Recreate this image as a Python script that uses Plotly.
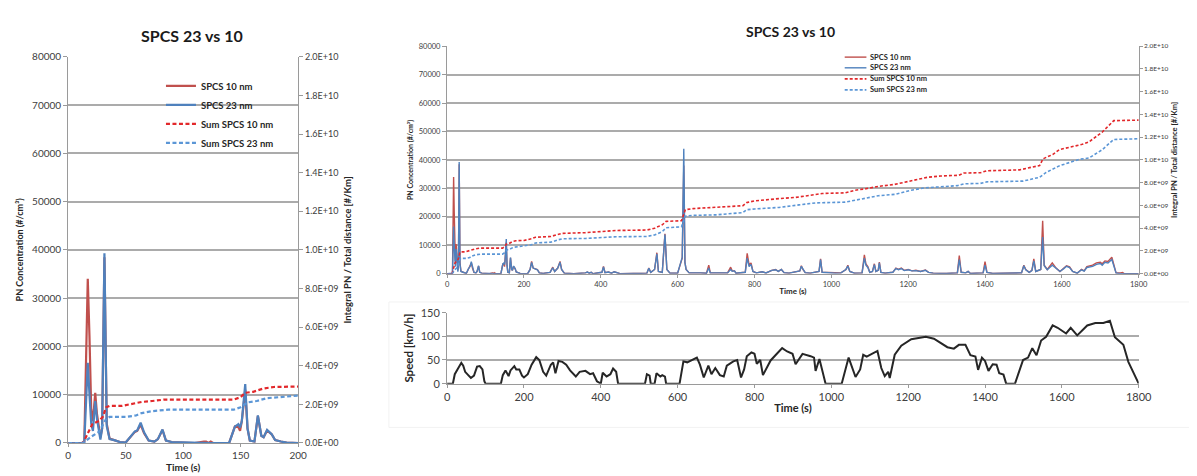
import plotly.graph_objects as go

# ---------------- data ----------------
# PN concentration (#/cm3) time series, shared time base (s)
pn_time = [0, 12, 14, 15.5, 17, 18.5, 20, 21.5, 23.5, 25, 26.5, 28, 29.5, 31.5, 33.5, 36, 40, 45, 50,
           55, 58, 60, 63, 66, 70, 75, 78, 82, 85, 90, 100, 105, 110, 118, 120, 122, 124, 126, 140,
           145, 148, 149.5, 151, 154, 156, 158, 162, 165, 168, 170, 173, 177, 180, 185, 190, 200,
           210, 216, 220, 224, 235, 240, 250, 268, 275, 280, 288, 294, 298, 305, 330, 360, 365, 370,
           375, 380, 403, 407, 411, 420, 428, 435, 442, 450, 520, 525, 530, 540, 546, 550, 560, 567,
           572, 580, 600, 607, 612, 616, 619, 622, 630, 660, 675, 681, 685, 730, 738, 742, 748, 752,
           776, 781, 786, 791, 796, 805, 820, 830, 845, 855, 862, 870, 877, 890, 918, 922, 926, 932,
           945, 968, 972, 976, 1010, 1025, 1038, 1043, 1048, 1060, 1080, 1086, 1090, 1095, 1100, 1107,
           1112, 1116, 1122, 1125, 1129, 1140, 1160, 1168, 1175, 1182, 1190, 1200, 1210, 1220, 1232,
           1245, 1253, 1265, 1300, 1328, 1333, 1338, 1350, 1356, 1362, 1395, 1400, 1405, 1420, 1495,
           1501, 1506, 1515, 1522, 1527, 1532, 1545, 1550, 1554, 1562, 1575, 1585, 1595, 1605, 1612,
           1620, 1628, 1640, 1651, 1658, 1665, 1680, 1690, 1700, 1705, 1712, 1720, 1730, 1735, 1741,
           1752, 1758, 1763, 1800]
pn_10nm = [0, 0, 300, 15000, 34000, 22000, 7000, 4500, 10400, 6000, 3000, 1200, 3000, 38500, 4000, 900, 600, 200, 100,
           1500, 2300, 2500, 3800, 2000, 500, 300, 800, 2700, 500, 200, 100, 200, 0, 300, 300, 0, 300, 0, 0,
           3400, 3300, 2500, 4500, 11000, 3000, 500, 300, 5600, 1500, 1200, 2600, 1800, 600, 300, 100, 0,
           100, 1500, 4300, 2000, 1500, 300, 100, 500, 2300, 800, 2000, 4300, 1500, 200, 0, 300, 600, 200,
           500, 0, 500, 2600, 400, 600, 200, 700, 300, 0, 200, 2000, 500, 1500, 7400, 800, 500, 14000,
           1500, 200, 200, 3000, 5500, 38000, 4000, 1500, 300, 300, 200, 3000, 300, 300, 2300, 1000, 1000, 200,
           500, 7200, 3000, 3800, 800, 300, 700, 300, 1200, 1500, 800, 1500, 400, 200, 1000, 2800, 1500, 400,
           200, 800, 5200, 500, 200, 300, 1500, 3000, 800, 200, 300, 6600, 3500, 2500, 500, 800,
           3500, 800, 1200, 4100, 500, 200, 500, 2000, 1500, 2000, 1200, 1500, 1000, 1200, 800,
           1300, 500, 200, 100, 300, 6400, 500, 300, 800, 100, 300, 4300, 500, 100, 300,
           3000, 1500, 500, 1200, 5200, 800, 1500, 18600, 3000, 1500, 3800, 2000, 800, 2000, 2800,
           2400, 800, 200, 1500, 1000, 2500, 3000, 3800, 4000, 3500, 4500, 4300, 5800, 3000, 300,
           300, 400, 0, 0]
pn_23nm = [0, 0, 200, 8000, 16600, 10000, 4000, 2500, 8700, 5000, 2500, 700, 3000, 39300, 3500, 800, 600, 200, 100,
           1600, 2400, 2600, 4200, 2200, 500, 300, 800, 2800, 500, 200, 100, 200, 0, 0, 0, 0, 0, 0, 0,
           3400, 3900, 3200, 4500, 12200, 3000, 500, 300, 5700, 1500, 1200, 2700, 1800, 600, 300, 100, 0,
           100, 1500, 4000, 2000, 1400, 300, 100, 500, 2100, 800, 2000, 4000, 1500, 200, 0, 300, 600, 200,
           500, 0, 500, 2400, 400, 600, 200, 700, 300, 0, 200, 1900, 500, 1500, 7000, 800, 500, 13800,
           1500, 200, 200, 3000, 5800, 43900, 4000, 1500, 300, 300, 200, 2000, 300, 300, 1500, 900, 1000, 200,
           500, 5500, 2500, 3300, 800, 300, 700, 300, 1200, 1400, 800, 1500, 400, 200, 1000, 2600, 1500, 400,
           200, 800, 5000, 500, 200, 300, 1500, 2700, 800, 200, 300, 5500, 3000, 2200, 500, 800,
           3200, 800, 1200, 3800, 500, 200, 500, 1800, 1400, 1800, 1100, 1400, 1000, 1100, 800,
           1200, 500, 200, 100, 300, 5000, 500, 300, 800, 100, 300, 3000, 500, 100, 300,
           2800, 1400, 500, 1100, 4500, 800, 1500, 12900, 2800, 1400, 3000, 1800, 800, 1800, 2600,
           2200, 800, 200, 1400, 900, 2200, 2600, 3300, 3600, 3000, 4000, 3800, 5000, 2500, 300,
           0, 0, 0, 0]

# Integral PN / total distance, in units of 1E+09 #/km
sum10_time = [0, 13, 17, 21, 27, 30, 33, 36, 47, 56, 64, 73, 84, 144, 150, 154, 161, 170, 179, 200,
              220, 230, 270, 290, 300, 360, 400, 440, 520, 540, 560, 570, 610, 620, 640, 700, 770, 780,
              800, 864, 907, 942, 976, 1036, 1062, 1087, 1122, 1165, 1208, 1250, 1285, 1332, 1345, 1388,
              1405, 1490, 1516, 1542, 1551, 1576, 1593, 1619, 1653, 1671, 1705, 1735, 1800]
sum10_e9 = [0, 0, 0.50, 0.975, 1.15, 1.35, 1.85, 1.925, 1.925, 2.025, 2.125, 2.175, 2.25, 2.25, 2.375, 2.6, 2.65, 2.825, 2.9, 2.925,
            3.075, 3.21, 3.275, 3.45, 3.55, 3.61, 3.70, 3.80, 3.84, 4.00, 4.30, 4.60, 4.66, 5.625, 5.725, 5.825, 5.975, 6.25,
            6.40, 6.6, 6.71, 6.875, 7.05, 7.11, 7.34, 7.45, 7.675, 7.85, 8.19, 8.475, 8.59, 8.65, 8.85, 8.875,
            9.05, 9.125, 9.325, 9.5, 10.1, 10.475, 10.9, 11.1, 11.375, 11.6, 12.45, 13.45, 13.5]
sum23_time = [0, 13, 20, 27, 33, 36, 50, 59, 64, 73, 87, 144, 150, 156, 164, 173, 184, 200,
              220, 230, 270, 290, 300, 360, 400, 440, 520, 540, 560, 570, 610, 620, 640, 700, 770, 780,
              800, 864, 916, 959, 1036, 1079, 1122, 1165, 1208, 1242, 1293, 1328, 1345, 1388, 1405, 1499,
              1542, 1559, 1593, 1619, 1645, 1671, 1705, 1735, 1800]
sum23_e9 = [0, 0, 0.325, 0.5875, 1.25, 1.35, 1.35, 1.425, 1.55, 1.65, 1.725, 1.725, 1.85, 2.1, 2.175, 2.325, 2.375, 2.45,
            2.55, 2.70, 2.775, 2.99, 3.075, 3.10, 3.19, 3.25, 3.275, 3.41, 3.70, 4.04, 4.125, 5.06, 5.125, 5.175, 5.375, 5.625,
            5.69, 5.825, 6.05, 6.225, 6.29, 6.575, 6.85, 6.975, 7.34, 7.54, 7.675, 7.74, 7.9, 7.94, 8.075, 8.14,
            8.475, 8.9, 9.475, 9.75, 10.05, 10.175, 10.9, 11.8, 11.86]

# Vehicle speed (km/h)
speed_time = [0, 15, 20, 25, 32, 37, 42, 47, 55, 62, 70, 78, 85, 92, 97, 100, 140, 145, 152, 160, 165, 175, 180,
              188, 195, 200, 210, 220, 232, 240, 250, 258, 270, 276, 282, 290, 300, 310, 320, 335, 345, 360,
              372, 380, 390, 400, 405, 415, 425, 432, 440, 445, 515, 520, 527, 530, 540, 545, 555, 560, 567,
              570, 605, 615, 625, 640, 650, 658, 668, 680, 688, 698, 710, 720, 728, 745, 755, 765, 773, 780,
              792, 800, 806, 815, 822, 842, 865, 872, 885, 899, 907, 925, 946, 955, 959, 969, 985, 1027,
              1045, 1063, 1075, 1083, 1092, 1105, 1120, 1130, 1139, 1148, 1152, 1165, 1182, 1208, 1246, 1267,
              1302, 1319, 1332, 1349, 1362, 1375, 1382, 1392, 1400, 1409, 1420, 1430, 1437, 1448, 1455, 1478,
              1499, 1512, 1523, 1534, 1546, 1559, 1576, 1589, 1611, 1623, 1640, 1666, 1687, 1708, 1725, 1738,
              1760, 1773, 1800]
speed_kmh = [0, 0, 20, 27, 38, 44, 38, 25, 18, 12, 17, 36, 37, 30, 5, 0, 0, 18, 28, 16, 28, 37, 30,
             30, 17, 13, 20, 40, 56, 50, 25, 17, 40, 45, 22, 48, 46, 40, 28, 15, 25, 27,
             20, 22, 5, 0, 23, 15, 20, 32, 25, 0, 0, 20, 17, 0, 0, 22, 15, 18, 15,
             0, 0, 47, 45, 52, 55, 40, 13, 38, 20, 33, 18, 15, 38, 47, 50, 13, 30, 58,
             66, 63, 42, 50, 18, 49, 70, 75, 68, 63, 41, 63, 58, 55, 27, 52, 0, 0,
             55, 14, 30, 61, 57, 62, 69, 33, 16, 25, 12, 61, 80, 94, 99, 95,
             77, 74, 82, 82, 60, 57, 29, 55, 48, 27, 41, 40, 22, 19, 0, 0,
             50, 55, 75, 60, 91, 99, 123, 118, 106, 118, 102, 123, 128, 128, 133, 98,
             82, 46, 0]

series_names = ["SPCS 10 nm", "SPCS 23 nm", "Sum SPCS 10 nm", "Sum SPCS 23 nm"]
pn_ticks = [0, 10000, 20000, 30000, 40000, 50000, 60000, 70000, 80000]
integral_ticks = [i * 2e9 for i in range(11)]
integral_ticktext = [f"{v:.1E}" for v in integral_ticks]
title_text = "SPCS 23 vs 10"

# ---------------- styles ----------------
W, H = 1197, 476
FONT = "Lato, 'Open Sans', sans-serif"
C10, C23 = "#C0504D", "#4F81BD"
CS10, CS23 = "#E2282B", "#5B96D6"
GRID = "#ababab"
AX = "#9a9a9a"
TXT = "#404040"

def px(xp):
    return xp / W

def py(yp):
    return 1 - yp / H

sum10 = [v * 1e9 for v in sum10_e9]
sum23 = [v * 1e9 for v in sum23_e9]

fig = go.Figure()

# Left chart (0-200 s)
fig.add_trace(go.Scatter(x=pn_time, y=pn_10nm, name=series_names[0], mode="lines",
                         line=dict(color=C10, width=2.2), xaxis="x", yaxis="y", legend="legend"))
fig.add_trace(go.Scatter(x=pn_time, y=pn_23nm, name=series_names[1], mode="lines",
                         line=dict(color=C23, width=2.2), xaxis="x", yaxis="y", legend="legend"))
fig.add_trace(go.Scatter(x=sum10_time, y=sum10, name=series_names[2], mode="lines",
                         line=dict(color=CS10, width=2.2, dash="4px,2.5px"), xaxis="x", yaxis="y2", legend="legend"))
fig.add_trace(go.Scatter(x=sum23_time, y=sum23, name=series_names[3], mode="lines",
                         line=dict(color=CS23, width=2.2, dash="4px,2.5px"), xaxis="x", yaxis="y2", legend="legend"))

# Right top chart (0-1800 s)
fig.add_trace(go.Scatter(x=pn_time, y=pn_10nm, name=series_names[0], mode="lines", showlegend=False,
                         line=dict(color=C10, width=1.4), xaxis="x2", yaxis="y3"))
fig.add_trace(go.Scatter(x=pn_time, y=pn_23nm, name=series_names[1], mode="lines", showlegend=False,
                         line=dict(color=C23, width=1.4), xaxis="x2", yaxis="y3"))
fig.add_trace(go.Scatter(x=sum10_time, y=sum10, name=series_names[2], mode="lines", showlegend=False,
                         line=dict(color=CS10, width=1.6, dash="3px,2px"), xaxis="x2", yaxis="y4"))
fig.add_trace(go.Scatter(x=sum23_time, y=sum23, name=series_names[3], mode="lines", showlegend=False,
                         line=dict(color=CS23, width=1.6, dash="3px,2px"), xaxis="x2", yaxis="y4"))

# Speed chart
fig.add_trace(go.Scatter(x=speed_time, y=speed_kmh, name="Speed", mode="lines", showlegend=False,
                         line=dict(color="#262626", width=2), xaxis="x3", yaxis="y5"))

L_x = [px(58), px(291)]
L_y = [py(440), py(43)]
R_x = [px(442), px(1143)]
R_y = [py(266), py(32)]
S_y = [py(379), py(306)]

common_x = dict(showgrid=False, zeroline=False, showline=True, linecolor=AX, linewidth=1.2,
                ticks="outside", ticklen=3, tickcolor=AX)
common_y = dict(showgrid=True, gridcolor=GRID, gridwidth=1.5, zeroline=False, showline=True,
                linecolor=AX, linewidth=1.2, ticks="outside", ticklen=4, tickcolor=AX, tickformat="d")

fig.update_layout(
    width=W, height=H, margin=dict(l=0, r=0, t=0, b=0),
    paper_bgcolor="white", plot_bgcolor="white",
    font=dict(family=FONT, color=TXT),
    xaxis=dict(common_x, domain=L_x, anchor="y", range=[0, 200], tickvals=[0, 50, 100, 150, 200],
               tickfont=dict(size=10, color=TXT),
               title=dict(text="<b>Time (s)</b>", font=dict(size=10, color="#262626"), standoff=3)),
    yaxis=dict(common_y, domain=L_y, anchor="x", range=[0, 80000], tickvals=pn_ticks,
               tickfont=dict(size=10, color=TXT),
               title=dict(text="<b>PN Concentration (#/cm³)</b>", font=dict(size=9, color="#262626"), standoff=6)),
    yaxis2=dict(domain=L_y, anchor="x", overlaying="y", side="right", range=[0, 2e10],
                tickvals=integral_ticks, ticktext=integral_ticktext, showgrid=False, zeroline=False,
                showline=True, linecolor=AX, linewidth=1.2, ticks="outside", ticklen=4, tickcolor=AX,
                tickfont=dict(size=9, color=TXT),
                title=dict(text="<b>Integral PN / Total distance [#/Km]</b>", font=dict(size=9.5, color="#262626"), standoff=6)),
    xaxis2=dict(common_x, domain=R_x, anchor="y3", range=[0, 1800], dtick=200,
                tickfont=dict(size=7.5, color=TXT),
                title=dict(text="<b>Time (s)</b>", font=dict(size=8, color="#262626"), standoff=0)),
    yaxis3=dict(common_y, domain=R_y, anchor="x2", range=[0, 80000], tickvals=pn_ticks,
                tickfont=dict(size=7.5, color=TXT),
                title=dict(text="<b>PN Concentration (#/cm³)</b>", font=dict(size=7, color="#262626"), standoff=4)),
    yaxis4=dict(domain=R_y, anchor="x2", overlaying="y3", side="right", range=[0, 2e10],
                tickvals=integral_ticks, ticktext=integral_ticktext, showgrid=False, zeroline=False,
                showline=True, linecolor=AX, linewidth=1.2, ticks="outside", ticklen=3, tickcolor=AX,
                tickfont=dict(size=6.5, color=TXT),
                title=dict(text="<b>Integral PN / Total distance [#/Km]</b>", font=dict(size=7.5, color="#262626"), standoff=4)),
    xaxis3=dict(common_x, domain=R_x, anchor="y5", range=[0, 1800], dtick=200,
                tickfont=dict(size=11, color=TXT),
                title=dict(text="<b>Time (s)</b>", font=dict(size=11, color="#262626"), standoff=2)),
    yaxis5=dict(common_y, domain=S_y, anchor="x3", range=[0, 150], tickvals=[0, 50, 100, 150],
                tickfont=dict(size=11, color=TXT),
                title=dict(text="<b>Speed [km/h]</b>", font=dict(size=11.5, color="#262626"), standoff=4)),
    legend=dict(x=px(152), y=py(58), xanchor="left", yanchor="top", bgcolor="rgba(0,0,0,0)",
                font=dict(size=9.5, color="#262626", family=FONT, weight="bold"), tracegroupgap=0),
    showlegend=True,
)

# Titles
fig.add_annotation(text=f"<b>{title_text}</b>", x=px(183), y=py(21), xref="paper", yref="paper",
                   showarrow=False, font=dict(size=16, color="#1a1a1a"), xanchor="center", yanchor="middle")
fig.add_annotation(text=f"<b>{title_text}</b>", x=px(790), y=py(17), xref="paper", yref="paper",
                   showarrow=False, font=dict(size=14, color="#1a1a1a"), xanchor="center", yanchor="middle")

# Compact legend for the right-hand chart
leg_rows = [43.3, 54.3, 65.7, 77.0]
leg_styles = [(C10, 1.4, "solid"), (C23, 1.4, "solid"), (CS10, 1.6, "3px,2px"), (CS23, 1.6, "3px,2px")]
for name, yy, (col, wd, ds) in zip(series_names, leg_rows, leg_styles):
    fig.add_shape(type="line", xref="paper", yref="paper", x0=px(845), x1=px(867), y0=py(yy), y1=py(yy),
                  line=dict(color=col, width=wd, dash=ds))
    fig.add_annotation(text=f"<b>{name}</b>", x=px(869), y=py(yy), xref="paper", yref="paper",
                       showarrow=False, xanchor="left", yanchor="middle",
                       font=dict(size=7.5, color="#262626"))

# faint frame around the speed panel
fig.add_shape(type="rect", xref="paper", yref="paper", x0=px(383), x1=px(1196), y0=py(424), y1=py(295),
              line=dict(color="#f2f2f2", width=1), layer="below")

fig.write_html("out.html")
